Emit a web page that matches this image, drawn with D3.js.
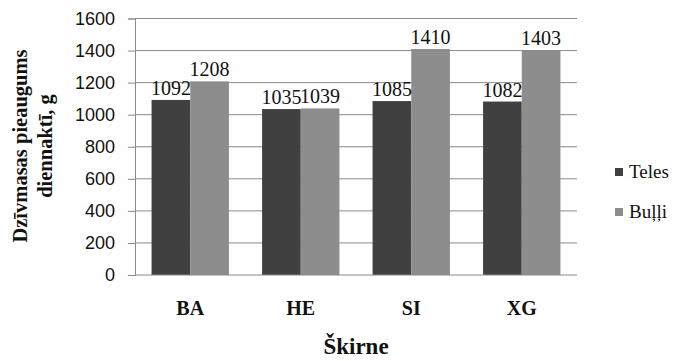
<!DOCTYPE html>
<html>
<head>
<meta charset="utf-8">
<script src="https://cdn.jsdelivr.net/npm/d3@7"></script>
<style>
  html, body { margin: 0; padding: 0; background: #fff; }
  svg { display: block; }
</style>
</head>
<body>
<svg id="chart" width="674" height="361"></svg>
<script>
// Breeds and daily weight gain (g/day) by sex
const categories = ["BA", "HE", "SI", "XG"];
const seriesNames = ["Teles", "Buļļi"];
const teles = [1092, 1035, 1085, 1082];
const bulli = [1208, 1039, 1410, 1403];
const yTicks = [0, 200, 400, 600, 800, 1000, 1200, 1400, 1600];
const colors = ["#404040", "#8d8d8d"];

const serif = "Liberation Serif, Times New Roman, serif";
const sans = "Liberation Sans, Arial, sans-serif";

const svg = d3.select("#chart");
const margin = { left: 135, right: 97, top: 18.5, bottom: 86 };
const W = 674, H = 361;
const plotW = W - margin.left - margin.right;
const plotH = H - margin.top - margin.bottom;

const x = d3.scaleBand().domain(categories).range([0, plotW]).paddingInner(0.3).paddingOuter(0.15);
const xs = d3.scaleBand().domain(seriesNames).range([0, x.bandwidth()]);
const y = d3.scaleLinear().domain([0, 1600]).range([plotH, 0]);

const g = svg.append("g").attr("transform", `translate(${margin.left},${margin.top})`);

// gridlines
g.append("g").selectAll("line").data(yTicks.filter(d => d > 0)).join("line")
  .attr("x1", 0).attr("x2", plotW)
  .attr("y1", d => y(d)).attr("y2", d => y(d))
  .attr("stroke", "#8a8a8a").attr("stroke-width", 1);

// y axis
const yAxis = g.append("g").call(
  d3.axisLeft(y).tickValues(yTicks).tickFormat(d3.format("d")).tickSize(7).tickPadding(13));
yAxis.select(".domain").attr("stroke", "#8a8a8a");
yAxis.selectAll(".tick line").attr("stroke", "#8a8a8a");
yAxis.selectAll("text").attr("font-family", sans)
  .attr("font-size", 18).attr("fill", "#111");

// bars
const data = categories.map((c, i) => ({ c, vals: [teles[i], bulli[i]] }));
const grp = g.selectAll(".grp").data(data).join("g")
  .attr("transform", d => `translate(${x(d.c)},0)`);
grp.selectAll("rect").data(d => d.vals.map((v, j) => ({ v, s: seriesNames[j], j }))).join("rect")
  .attr("x", d => xs(d.s)).attr("width", xs.bandwidth())
  .attr("y", d => y(d.v)).attr("height", d => plotH - y(d.v))
  .attr("fill", d => colors[d.j]);
grp.selectAll("text").data(d => d.vals.map((v, j) => ({ v, s: seriesNames[j], j }))).join("text")
  .attr("x", d => xs(d.s) + xs.bandwidth() / 2).attr("y", d => y(d.v) - 5)
  .attr("text-anchor", "middle")
  .attr("font-family", serif).attr("font-size", 20)
  .attr("fill", "#111").text(d => d.v);

// x axis baseline
g.append("line").attr("x1", 0).attr("x2", plotW).attr("y1", plotH).attr("y2", plotH)
  .attr("stroke", "#8a8a8a");

// category labels
g.selectAll(".cat").data(categories).join("text")
  .attr("x", d => x(d) + x.bandwidth() / 2).attr("y", plotH + 40)
  .attr("text-anchor", "middle")
  .attr("font-family", serif)
  .attr("font-weight", "bold").attr("font-size", 20).attr("fill", "#111").text(d => d);

// x title
svg.append("text").attr("x", margin.left + plotW / 2).attr("y", 354)
  .attr("text-anchor", "middle")
  .attr("font-family", serif)
  .attr("font-weight", "bold").attr("font-size", 23).attr("fill", "#111").text("Škirne");

// y title (two lines)
const yt = svg.append("text").attr("transform", "translate(0,146) rotate(-90)")
  .attr("text-anchor", "middle")
  .attr("font-family", serif)
  .attr("font-weight", "bold").attr("font-size", 20.5).attr("fill", "#111");
yt.append("tspan").attr("x", 0).attr("y", 27).text("Dzīvmasas pieaugums");
yt.append("tspan").attr("x", 0).attr("y", 52).text("diennaktī, g");

// legend
const leg = svg.append("g").attr("transform", "translate(615,0)");
seriesNames.forEach((s, i) => {
  const yy = 172 + i * 40;
  leg.append("rect").attr("x", 0).attr("y", yy - 4).attr("width", 8).attr("height", 8).attr("fill", colors[i]);
  leg.append("text").attr("x", 14).attr("y", yy + 6)
    .attr("font-family", serif).attr("font-size", 19)
    .attr("fill", "#111").text(s);
});
</script>
</body>
</html>
